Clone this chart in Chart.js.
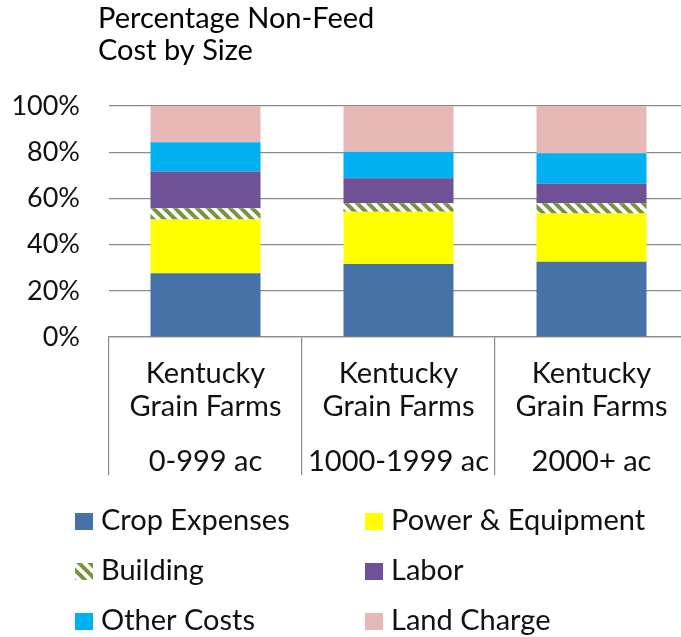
<!DOCTYPE html>
<html>
<head>
<meta charset="utf-8">
<script src="https://cdn.jsdelivr.net/npm/chart.js@4/dist/chart.umd.min.js"></script>
<style>
  html, body { margin: 0; padding: 0; background: #fff; overflow: hidden; }
  #wrap { position: relative; width: 681px; height: 637px; overflow: hidden; }
  canvas { display: block; }
</style>
</head>
<body>
<div id="wrap"><canvas id="chart" width="690" height="637"></canvas></div>
<script>
// Share of non-feed cost, Kentucky grain farms, by farm size
const titleLines = ['Percentage Non-Feed', 'Cost by Size'];
const categoryHeading = ['Kentucky', 'Grain Farms'];
const categories = ['0-999 ac', '1000-1999 ac', '2000+ ac'];
const seriesNames = ['Crop Expenses', 'Power & Equipment', 'Building', 'Labor', 'Other Costs', 'Land Charge'];

const cropExpenses   = [27.6, 31.6, 32.6];
const powerEquipment = [23.3, 22.6, 20.9];
const building       = [4.8, 3.7, 4.4];
const labor          = [15.9, 10.8, 8.6];
const otherCosts     = [12.7, 11.5, 13.0];
const landCharge     = [15.7, 19.8, 20.5];

const yTicks = [0, 20, 40, 60, 80, 100];

const FONT = 'Lato';
const TEXT = '#111';
const TEXT_SIZE = 29;

// Diagonal olive stripes used for the Building segment
function stripePattern() {
  const s = 11;
  const c = document.createElement('canvas');
  c.width = s; c.height = s;
  const g = c.getContext('2d');
  g.fillStyle = '#ffffff';
  g.fillRect(0, 0, s, s);
  g.strokeStyle = '#77933C';
  g.lineWidth = 4;
  for (let k = -1; k <= 1; k++) {
    g.beginPath();
    g.moveTo(k * s - 1, -1);
    g.lineTo(k * s + s + 1, s + 1);
    g.stroke();
  }
  return g.createPattern(c, 'repeat');
}
const buildingFill = stripePattern();

const seriesValues = [cropExpenses, powerEquipment, building, labor, otherCosts, landCharge];
const seriesColors = ['#4572A7', '#FFFF00', buildingFill, '#6F5195', '#00B0F0', '#E6B9B8'];

const datasets = seriesNames.map((name, i) => ({
  label: name,
  data: seriesValues[i],
  backgroundColor: seriesColors[i],
  borderWidth: 0,
  barPercentage: 0.57,
  categoryPercentage: 1.0
}));

// Chart title, drawn top-left above the plot
const titlePlugin = {
  id: 'titleLines',
  afterDraw(chart) {
    const ctx = chart.ctx;
    ctx.save();
    ctx.font = `${TEXT_SIZE}px ${FONT}`;
    ctx.fillStyle = '#000';
    ctx.textAlign = 'left';
    ctx.textBaseline = 'alphabetic';
    titleLines.forEach((t, i) => ctx.fillText(t, 98, 28 + i * 32));
    ctx.restore();
  }
};

// Category labels inside the boxed axis area below the bars
const categoryLabelPlugin = {
  id: 'categoryLabels',
  afterDraw(chart) {
    const ctx = chart.ctx;
    const xs = chart.scales.x;
    ctx.save();
    ctx.font = `${TEXT_SIZE}px ${FONT}`;
    ctx.fillStyle = TEXT;
    ctx.textAlign = 'center';
    ctx.textBaseline = 'alphabetic';
    categories.forEach((cat, i) => {
      const x = xs.getPixelForValue(i);
      ctx.fillText(categoryHeading[0], x, xs.top + 46);
      ctx.fillText(categoryHeading[1], x, xs.top + 79);
      ctx.fillText(cat, x, xs.top + 134);
    });
    ctx.restore();
  }
};

// Two-column legend under the chart
const legendPlugin = {
  id: 'gridLegend',
  afterDraw(chart) {
    const ctx = chart.ctx;
    const colX = [75, 365];
    const rowY = [530, 580, 630];
    ctx.save();
    ctx.font = `${TEXT_SIZE}px ${FONT}`;
    ctx.textAlign = 'left';
    ctx.textBaseline = 'alphabetic';
    chart.data.datasets.forEach((ds, i) => {
      const x = colX[i % 2];
      const y = rowY[Math.floor(i / 2)];
      ctx.fillStyle = ds.backgroundColor;
      ctx.fillRect(x, y - 17, 18, 17);
      ctx.fillStyle = TEXT;
      ctx.fillText(ds.label, x + 26, y);
    });
    ctx.restore();
  }
};

new Chart(document.getElementById('chart'), {
  type: 'bar',
  data: { labels: categories, datasets },
  options: {
    responsive: false,
    animation: false,
    devicePixelRatio: 1,
    layout: { padding: { left: 0, right: 2, top: 106, bottom: 162 } },
    plugins: {
      legend: { display: false },
      title: { display: false },
      tooltip: { enabled: false }
    },
    scales: {
      x: {
        stacked: true,
        offset: true,
        ticks: { display: false },
        grid: {
          offset: true,
          drawOnChartArea: false,
          drawTicks: true,
          tickLength: 138,
          color: '#8C8C8C',
          lineWidth: 1.2
        },
        border: { display: true, color: '#8C8C8C', width: 1.2 },
        afterFit(scale) { scale.height = 138; }
      },
      y: {
        stacked: true,
        min: 0,
        max: 100,
        afterBuildTicks(scale) { scale.ticks = yTicks.map(v => ({ value: v })); },
        ticks: {
          padding: 29,
          color: TEXT,
          font: { family: FONT, size: 27 },
          callback: v => v + '%'
        },
        grid: { color: '#8C8C8C', lineWidth: 1.2, drawTicks: false },
        border: { display: false },
        afterFit(scale) { scale.width = 109; }
      }
    }
  },
  plugins: [titlePlugin, categoryLabelPlugin, legendPlugin]
});
</script>
</body>
</html>
